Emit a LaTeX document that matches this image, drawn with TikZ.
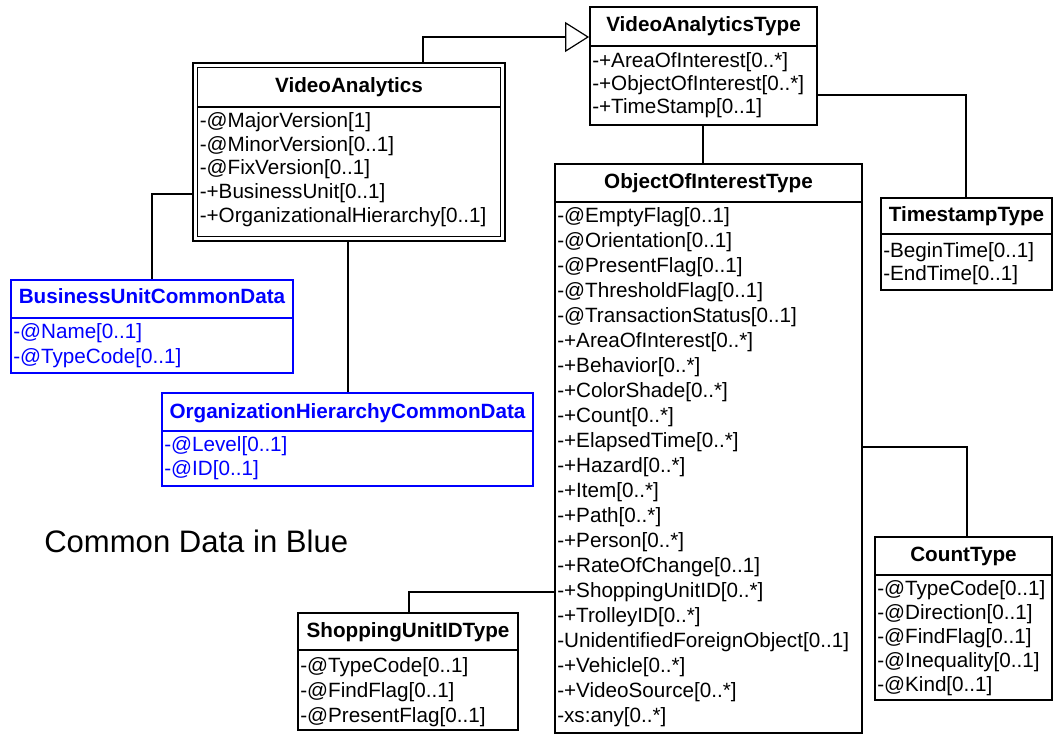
\documentclass[tikz,border=0pt]{standalone}
\usepackage{fontspec}
\setmainfont{Liberation Sans}
\usetikzlibrary{fit,arrows.meta}
\definecolor{cdblue}{RGB}{0,0,255}
\tikzset{
  box/.style={draw, line width=1.4pt, inner sep=0pt},
  sepline/.style={line width=1.2pt},
  ttl/.style={font=\fontsize{15.5}{18}\selectfont\bfseries, inner sep=0pt, text height=11.2pt, text depth=3.3pt},
  rowtxt/.style={font=\fontsize{15.5}{18}\selectfont, inner sep=0pt, anchor=west, text height=11.2pt, text depth=3.3pt},
  conn/.style={draw=black, line width=0.9pt},
}
% name, x1, y1, x2, y2, separator y, title y, title
\newcommand\clsbox[8]{%
  \node[box, fit={(#2,#3) (#4,#5)}] (#1) {};
  \draw[sepline] (#2,#6) -- (#4,#6);
  \node[ttl] (#1-t) at ({(#2+#4)/2},#7) {#8};
}
% name, x, first y, step, rows
\newcommand\clsrows[5]{%
  \foreach \r [count=\i from 0] in {#5} {\node[rowtxt] (#1-r\i) at (#2,{#3+\i*#4}) {\r};}
}
\begin{document}
\begin{tikzpicture}[x=0.75pt,y=-0.75pt]
\useasboundingbox (0,0) rectangle (1055,734);

% VideoAnalytics (double border)
\node[box, fit={(193,63) (505,241)}] (vaout) {};
\clsbox{va}{197.5}{67.5}{500.5}{236.5}{107}{87}{VideoAnalytics}
\clsrows{va}{199.5}{122}{23.75}{-@MajorVersion[1], -@MinorVersion[0..1], -@FixVersion[0..1], -+BusinessUnit[0..1], -+OrganizationalHierarchy[0..1]}

% VideoAnalyticsType
\clsbox{vat}{590}{7}{817}{125}{46}{26}{VideoAnalyticsType}
\clsrows{vat}{592}{62}{23}{-+AreaOfInterest[0..*], -+ObjectOfInterest[0..*], -+TimeStamp[0..1]}

% ObjectOfInterestType
\clsbox{oot}{555}{164}{862}{733}{202}{183}{ObjectOfInterestType}
\clsrows{oot}{557}{217}{25}{-@EmptyFlag[0..1], -@Orientation[0..1], -@PresentFlag[0..1], -@ThresholdFlag[0..1], -@TransactionStatus[0..1], -+AreaOfInterest[0..*], -+Behavior[0..*], -+ColorShade[0..*], -+Count[0..*], -+ElapsedTime[0..*], -+Hazard[0..*], -+Item[0..*], -+Path[0..*], -+Person[0..*], -+RateOfChange[0..1], -+ShoppingUnitID[0..*], -+TrolleyID[0..*], -UnidentifiedForeignObject[0..1], -+Vehicle[0..*], -+VideoSource[0..*], -xs:any[0..*]}

% TimestampType
\clsbox{ts}{881}{198}{1052}{290}{234}{216}{TimestampType}
\clsrows{ts}{883}{252}{23}{-BeginTime[0..1], -EndTime[0..1]}

% CountType
\clsbox{ct}{875}{537}{1052}{700}{575}{556}{CountType}
\clsrows{ct}{877}{590}{24}{-@TypeCode[0..1], -@Direction[0..1], -@FindFlag[0..1], -@Inequality[0..1], -@Kind[0..1]}

% ShoppingUnitIDType
\clsbox{su}{298}{613}{518}{730}{650}{632}{ShoppingUnitIDType}
\clsrows{su}{300}{667}{25}{-@TypeCode[0..1], -@FindFlag[0..1], -@PresentFlag[0..1]}

% Common data (blue)
\begin{scope}[cdblue]
\clsbox{bu}{11}{280}{293}{373}{318}{298}{BusinessUnitCommonData}
\clsrows{bu}{13}{333}{25}{-@Name[0..1], -@TypeCode[0..1]}
\clsbox{oh}{162}{393}{533}{486}{431}{413}{OrganizationHierarchyCommonData}
\clsrows{oh}{164}{446}{24}{-@Level[0..1], -@ID[0..1]}
\end{scope}

\node[font=\fontsize{23.3}{28}\selectfont, inner sep=0pt, anchor=base west] (cdb) at (44,552) {Common Data in Blue};

% connector junctions
\coordinate (gen) at (423,37);
\coordinate (j1) at (966,95);
\coordinate (j2) at (703,0);
\coordinate (j3) at (967,447);
\coordinate (j4) at (409,592);
\coordinate (j5) at (152,194);
\coordinate (j6) at (348,0);

% connectors
\draw[conn, -{Triangle[open,length=18pt,width=22.5pt]}] (vaout.north -| gen) |- (vat.west |- gen);
\draw[conn] (vat.east |- j1) -| (ts.north -| j1);
\draw[conn] (vat.south -| j2) -- (oot.north -| j2);
\draw[conn] (oot.east |- j3) -| (ct.north -| j3);
\draw[conn] (oot.west |- j4) -| (su.north -| j4);
\draw[conn] (vaout.west |- j5) -| (bu.north -| j5);
\draw[conn] (vaout.south -| j6) -- (oh.north -| j6);
\end{tikzpicture}
\end{document}
